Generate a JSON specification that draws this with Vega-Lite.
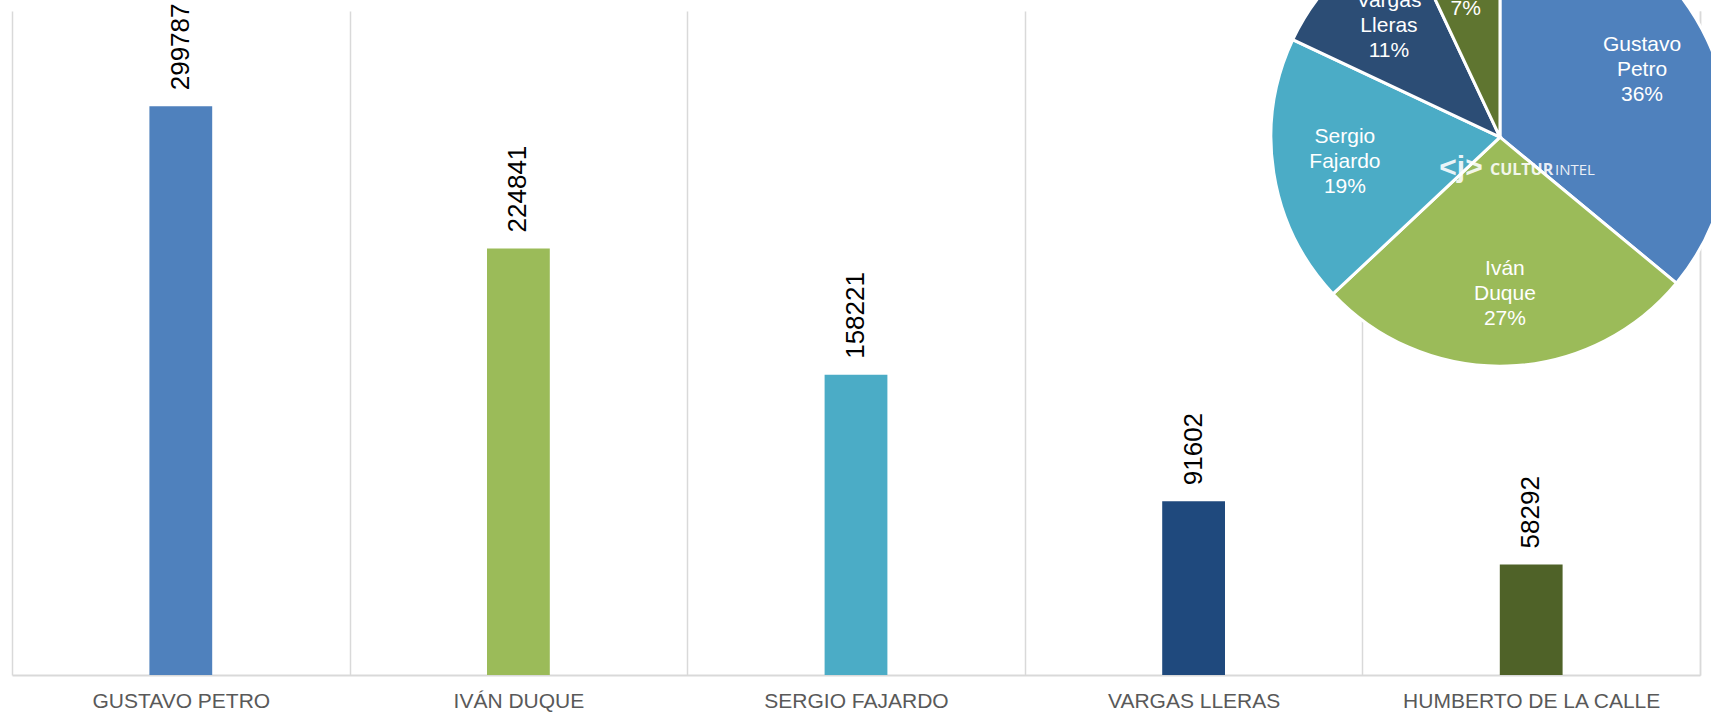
{
  "$schema": "https://vega.github.io/schema/vega-lite/v6.json",
  "width": 1688,
  "height": 664,
  "autosize": {"type": "none"},
  "padding": {"left": 12, "top": 11, "right": 11, "bottom": 38},
  "background": "white",
  "config": {"view": {"stroke": null}, "font": "Liberation Sans"},
  "data": {"values": [
    {"candidato": "GUSTAVO PETRO", "nombre": "Gustavo Petro", "votos": 299787, "orden": 1, "etiqueta": "Gustavo\nPetro\n36%"},
    {"candidato": "IVÁN DUQUE", "nombre": "Iván Duque", "votos": 224841, "orden": 2, "etiqueta": "Iván\nDuque\n27%"},
    {"candidato": "SERGIO FAJARDO", "nombre": "Sergio Fajardo", "votos": 158221, "orden": 3, "etiqueta": "Sergio\nFajardo\n19%"},
    {"candidato": "VARGAS LLERAS", "nombre": "Vargas Lleras", "votos": 91602, "orden": 4, "etiqueta": "Vargas\nLleras\n11%"},
    {"candidato": "HUMBERTO DE LA CALLE", "nombre": "Humberto De La Calle", "votos": 58292, "orden": 5, "etiqueta": "Humberto\nDe La Calle\n7%"}
  ]},
  "layer": [
    {
      "mark": {"type": "bar", "width": {"band": 0.186}},
      "encoding": {
        "x": {
          "field": "candidato", "type": "nominal", "sort": null,
          "scale": {"paddingInner": 0, "paddingOuter": 0},
          "axis": {
            "title": null, "labelAngle": 0, "labelFont": "Liberation Sans", "labelFontSize": 21,
            "labelColor": "#595959", "labelPadding": 15, "labelLimit": 0, "ticks": false, "grid": true,
            "tickBand": "extent", "gridColor": "#d9d9d9", "gridWidth": 1.5,
            "domainColor": "#d9d9d9", "domainWidth": 2
          }
        },
        "y": {
          "field": "votos", "type": "quantitative",
          "scale": {"domain": [0, 350000], "nice": false},
          "axis": {"orient": "right", "title": null, "labels": false, "ticks": false, "grid": false, "domain": true, "domainColor": "#d9d9d9", "domainWidth": 1.5}
        },
        "color": {
          "field": "candidato", "type": "nominal", "sort": null, "legend": null,
          "scale": {
            "domain": ["GUSTAVO PETRO", "IVÁN DUQUE", "SERGIO FAJARDO", "VARGAS LLERAS", "HUMBERTO DE LA CALLE"],
            "range": ["#4f81bd", "#9bbb59", "#4bacc6", "#1f497d", "#4f6228"]
          }
        }
      }
    },
    {
      "mark": {"type": "text", "angle": -90, "align": "left", "baseline": "middle", "dx": 16, "fontSize": 26, "color": "#000000", "font": "Liberation Sans"},
      "encoding": {
        "x": {"field": "candidato", "type": "nominal", "sort": null},
        "y": {"field": "votos", "type": "quantitative"},
        "text": {"field": "votos", "type": "quantitative", "format": "d"}
      }
    },
    {
      "mark": {"type": "arc", "x": {"expr": "width*0.8815"}, "y": {"expr": "height*0.19"}, "outerRadius": 229, "stroke": "white", "strokeWidth": 3},
      "encoding": {
        "theta": {"field": "votos", "type": "quantitative", "stack": true},
        "order": {"field": "orden", "type": "quantitative"},
        "color": {
          "field": "nombre", "type": "nominal", "sort": null, "legend": null,
          "scale": {
            "domain": ["Gustavo Petro", "Iván Duque", "Sergio Fajardo", "Vargas Lleras", "Humberto De La Calle"],
            "range": ["#4f81bd", "#9bbb59", "#4bacc6", "#2c4d75", "#5f7530"]
          }
        }
      }
    },
    {
      "mark": {"type": "text", "x": {"expr": "width*0.8815"}, "y": {"expr": "height*0.19"}, "radius": 157, "dy": -25, "fontSize": 21, "lineHeight": 25, "lineBreak": "\n", "color": "white", "font": "Liberation Sans"},
      "encoding": {
        "theta": {"field": "votos", "type": "quantitative", "stack": true},
        "order": {"field": "orden", "type": "quantitative"},
        "text": {"field": "etiqueta", "type": "nominal"}
      }
    },
    {
      "data": {"values": [{"marca": "CULTUR", "resto": "INTEL", "logo": "<j>"}]},
      "layer": [
        {
          "mark": {"type": "text", "x": {"expr": "width*0.8815"}, "y": {"expr": "height*0.19"}, "dx": -10, "dy": 33, "align": "left", "baseline": "middle", "font": "Open Sans", "fontSize": 16, "fontWeight": "bold", "color": "white", "opacity": 0.88},
          "encoding": {"text": {"field": "marca", "type": "nominal"}}
        },
        {
          "mark": {"type": "text", "x": {"expr": "width*0.8815"}, "y": {"expr": "height*0.19"}, "dx": 55, "dy": 33, "align": "left", "baseline": "middle", "font": "Open Sans", "fontSize": 15, "color": "white", "opacity": 0.88},
          "encoding": {"text": {"field": "resto", "type": "nominal"}}
        },
        {
          "mark": {"type": "text", "x": {"expr": "width*0.8815"}, "y": {"expr": "height*0.19"}, "dx": -39, "dy": 31, "align": "center", "baseline": "middle", "fontSize": 30, "fontWeight": "bold", "color": "white", "opacity": 0.88},
          "encoding": {"text": {"field": "logo", "type": "nominal"}}
        }
      ]
    }
  ],
  "resolve": {"scale": {"color": "independent"}}
}
